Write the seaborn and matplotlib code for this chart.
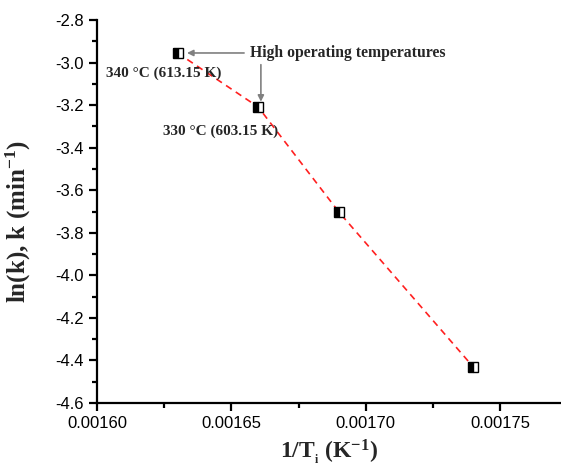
import matplotlib
matplotlib.use("Agg")
import matplotlib.pyplot as plt
import seaborn as sns
import pandas as pd
from matplotlib.ticker import MultipleLocator, FormatStrFormatter

inv_T = [0.00163, 0.00166, 0.00169, 0.00174]
ln_k = [-2.955, -3.209, -3.702, -4.43]
df = pd.DataFrame({"x": inv_T, "y": ln_k})

sns.set_theme(style="ticks")
plt.rcParams["font.family"] = ["Liberation Sans", "DejaVu Sans"]
plt.rcParams["mathtext.fontset"] = "custom"
plt.rcParams["mathtext.rm"] = "Liberation Serif:bold"
plt.rcParams["mathtext.it"] = "Liberation Serif:bold"
plt.rcParams["mathtext.bf"] = "Liberation Serif:bold"

fig = plt.figure(figsize=(5.61, 4.73), dpi=100)
ax = fig.add_axes([97/561, 70/473, (561-97)/561, 383/473])

sns.lineplot(data=df, x="x", y="y", ax=ax, color="#ff2020", linestyle=(0, (4, 3)),
             linewidth=1.2, sort=False)
ax.plot(df["x"], df["y"], linestyle="none", marker="s", ms=7, fillstyle="left",
        markerfacecolor="black", markerfacecoloralt="white", markeredgecolor="black",
        markeredgewidth=1.0, zorder=5)

ax.set_xlim(0.00160, 0.0017727)
ax.set_ylim(-4.6, -2.8)
ax.xaxis.set_major_locator(MultipleLocator(0.00005))
ax.xaxis.set_minor_locator(MultipleLocator(0.000025))
ax.xaxis.set_major_formatter(FormatStrFormatter("%.5f"))
ax.yaxis.set_major_locator(MultipleLocator(0.2))
ax.yaxis.set_minor_locator(MultipleLocator(0.1))
ax.yaxis.set_major_formatter(FormatStrFormatter("%.1f"))

for s in ["top", "right"]:
    ax.spines[s].set_visible(False)
for s in ["left", "bottom"]:
    ax.spines[s].set_linewidth(1.6)
    ax.spines[s].set_color("black")
ax.tick_params(which="major", length=6, width=1.6, labelsize=12, colors="black", direction="out")
ax.tick_params(which="minor", length=3.5, width=1.6, direction="out", colors="black")

serif = ["Liberation Serif", "DejaVu Serif"]
ax.set_ylabel(r"ln(k), k (min$^{-1}$)", fontsize=18, fontweight="bold", family=serif)
ax.yaxis.set_label_coords(-0.137, 0.473)
ax.set_xlabel(r"1/T$_{_i}$ (K$^{-1}$)", fontsize=17, fontweight="bold", family=serif, labelpad=4)

ax.annotate("High operating temperatures", xy=(inv_T[0] + 0.0000035, ln_k[0]),
            xytext=(0.001657, ln_k[0]), textcoords="data", fontsize=11.3,
            fontweight="bold", family=serif, va="center", ha="left",
            arrowprops=dict(arrowstyle="-|>", color="#808080", lw=1.2, mutation_scale=9,
                            shrinkA=2, shrinkB=0))
ax.annotate("", xy=(0.001661, ln_k[1] + 0.025), xytext=(0.001661, -3.01),
            arrowprops=dict(arrowstyle="-|>", color="#808080", lw=1.2, mutation_scale=9,
                            shrinkA=0, shrinkB=0))
ax.text(0.0016035, -3.05, "340 °C (613.15 K)", fontsize=11, fontweight="bold",
        family=serif, ha="left", va="center")
ax.text(0.0016245, -3.325, "330 °C (603.15 K)", fontsize=11, fontweight="bold",
        family=serif, ha="left", va="center")

fig.savefig("out.png", dpi=100)
